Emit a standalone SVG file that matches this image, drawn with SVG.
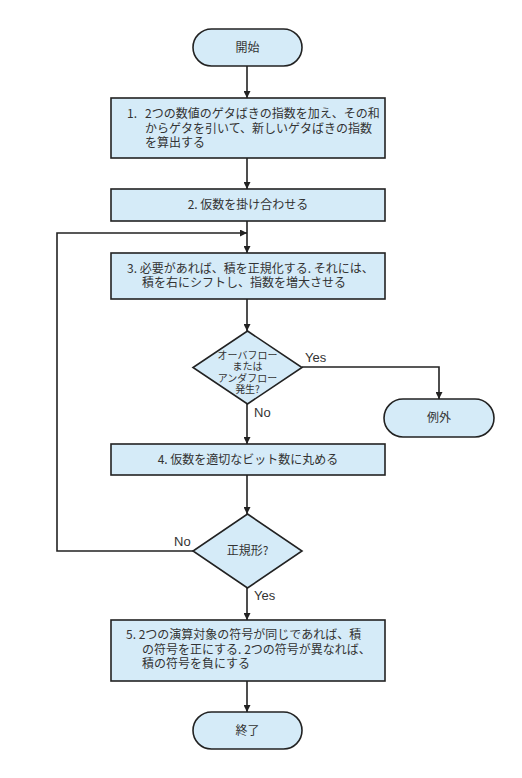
<svg xmlns="http://www.w3.org/2000/svg" width="522" height="778" viewBox="0 0 522 778">
<defs>
<marker id="ah" viewBox="0 0 10 10" refX="10" refY="5" markerWidth="7" markerHeight="7" markerUnits="userSpaceOnUse" orient="auto">
<path d="M0,0 L10,5 L0,10 z" fill="#222"/>
</marker>
<style>
.shape{fill:#d5ebf8;stroke:#222;stroke-width:1.6}
.t{font-family:"Noto Sans CJK JP","Noto Sans",sans-serif;font-size:12px;fill:#333}
.c{text-anchor:middle}
.d{font-size:10px}
.lbl{font-family:"Liberation Sans","Noto Sans",sans-serif;font-size:13px;fill:#333}
.conn{fill:none;stroke:#222;stroke-width:1.6}
</style>
</defs>
<rect width="522" height="778" fill="#fff"/>
<g id="connectors">
<path class="conn" d="M247,66 V98" marker-end="url(#ah)"/>
<path class="conn" d="M247,158 V189" marker-end="url(#ah)"/>
<path class="conn" d="M247,221 V253" marker-end="url(#ah)"/>
<path class="conn" d="M193,551 H57 V233 H247" marker-end="url(#ah)"/>
<path class="conn" d="M247,299 V331" marker-end="url(#ah)"/>
<path class="conn" d="M302,367 H439 V399" marker-end="url(#ah)"/>
<path class="conn" d="M247,404 V444" marker-end="url(#ah)"/>
<path class="conn" d="M247,475 V514" marker-end="url(#ah)"/>
<path class="conn" d="M247,588 V620" marker-end="url(#ah)"/>
<path class="conn" d="M247,681 V712" marker-end="url(#ah)"/>
<text class="lbl" x="305" y="362">Yes</text>
<text class="lbl" x="254" y="417">No</text>
<text class="lbl" x="174" y="546">No</text>
<text class="lbl" x="254" y="600">Yes</text>
</g>
<g id="start">
<rect class="shape" x="193" y="29" width="109" height="37" rx="18.5"/>
<text class="t c" x="247.5" y="52">開始</text>
</g>
<g id="step1">
<rect class="shape" x="111" y="98" width="274" height="60"/>
<text class="t" x="127" y="118">1.</text>
<text class="t"><tspan x="145" y="118">2つの数値のゲタばきの指数を加え、その和</tspan><tspan x="145" y="132.5">からゲタを引いて、新しいゲタばきの指数</tspan><tspan x="145" y="147">を算出する</tspan></text>
</g>
<g id="step2">
<rect class="shape" x="111" y="189" width="274" height="32"/>
<text class="t c" x="248" y="209">2. 仮数を掛け合わせる</text>
</g>
<g id="step3">
<rect class="shape" x="111" y="253" width="274" height="46"/>
<text class="t"><tspan x="127" y="273">3. 必要があれば、積を正規化する.  それには、</tspan><tspan x="142" y="286.5">積を右にシフトし、指数を増大させる</tspan></text>
</g>
<g id="overflow">
<path class="shape" d="M247.5,331 L302,367.5 L247.5,404 L193,367.5 z"/>
<text class="t c d"><tspan x="247.5" y="358.5">オーバフロー</tspan><tspan x="247.5" y="370">または</tspan><tspan x="247.5" y="381.5">アンダフロー</tspan><tspan x="247.5" y="393">発生?</tspan></text>
</g>
<g id="exception">
<rect class="shape" x="384" y="399" width="110" height="38" rx="19"/>
<text class="t c" x="439" y="422">例外</text>
</g>
<g id="step4">
<rect class="shape" x="111" y="444" width="274" height="31"/>
<text class="t c" x="248" y="464">4. 仮数を適切なビット数に丸める</text>
</g>
<g id="normalized">
<path class="shape" d="M247.5,514 L302,551 L247.5,588 L193,551 z"/>
<text class="t c" x="247.5" y="555">正規形?</text>
</g>
<g id="step5">
<rect class="shape" x="111" y="620" width="274" height="61"/>
<text class="t"><tspan x="126" y="639">5. 2つの演算対象の符号が同じであれば、積</tspan><tspan x="142" y="653.5">の符号を正にする.  2つの符号が異なれば、</tspan><tspan x="142" y="668">積の符号を負にする</tspan></text>
</g>
<g id="end">
<rect class="shape" x="193" y="712" width="109" height="37" rx="18.5"/>
<text class="t c" x="247.5" y="735">終了</text>
</g>
</svg>
